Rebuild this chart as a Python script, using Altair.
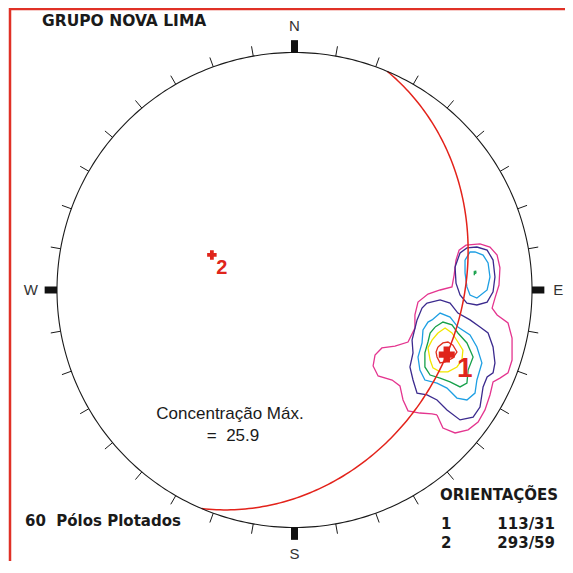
import math
import altair as alt
import pandas as pd

# ---------------- data ----------------
title_text = "GRUPO NOVA LIMA"
poles_text = "60 \u00a0Pólos Plotados"
max_label = "Concentração Máx."
max_value = "= \u00a025.9"
orient_title = "ORIENTAÇÕES"
orient_ids = ["1", "2"]
orient_trend = [113, 293]
orient_plunge = [31, 59]
orient_text = ["113/31", "293/59"]
plane_dipdir = 113
plane_dip = 31
cardinal_names = ["N", "E", "S", "W"]
cardinal_az = [0, 90, 180, 270]
tick_az = [a for a in range(0, 360, 10) if a % 90 != 0]

# contour loops (x east, y north, in units of net radius)
mag_x = [0.600, 0.625, 0.676, 0.731, 0.773, 0.802, 0.823, 0.836, 0.865, 0.899, 0.916, 0.916, 0.899, 0.853,
         0.832, 0.844, 0.861, 0.865, 0.853, 0.823, 0.781, 0.722, 0.693, 0.680, 0.672, 0.663, 0.613, 0.562,
         0.520, 0.507, 0.507, 0.478, 0.423, 0.368, 0.339, 0.331, 0.352, 0.411, 0.444, 0.457, 0.478, 0.528, 0.579]
mag_y = [-0.526, -0.581, -0.602, -0.589, -0.556, -0.505, -0.442, -0.387, -0.371, -0.349, -0.295, -0.202, -0.139, -0.105,
         -0.076, -0.034, 0.021, 0.093, 0.147, 0.181, 0.194, 0.189, 0.168, 0.126, 0.063, 0.013, 0.000, -0.017,
         -0.051, -0.105, -0.160, -0.219, -0.236, -0.244, -0.274, -0.320, -0.362, -0.379, -0.404, -0.463, -0.509, -0.518, -0.522]

pur_up_x = [0.676, 0.697, 0.726, 0.768, 0.811, 0.836, 0.844, 0.836, 0.811, 0.768, 0.726, 0.697, 0.680]
pur_up_y = [0.097, 0.156, 0.177, 0.181, 0.168, 0.126, 0.055, -0.008, -0.051, -0.063, -0.055, -0.021, 0.029]

blu_up_x = [0.718, 0.739, 0.760, 0.794, 0.815, 0.823, 0.811, 0.768, 0.739, 0.726, 0.718]
blu_up_y = [0.126, 0.160, 0.160, 0.147, 0.114, 0.055, 0.000, -0.034, -0.021, 0.013, 0.072]

grn_up_x = [0.757, 0.763, 0.764, 0.759, 0.757, 0.757]
grn_up_y = [0.078, 0.079, 0.072, 0.069, 0.072, 0.062]

pur_x = [0.558, 0.613, 0.655, 0.688, 0.739, 0.781, 0.815, 0.836, 0.844, 0.836, 0.811, 0.794, 0.781, 0.752,
         0.697, 0.642, 0.600, 0.558, 0.516, 0.499, 0.486, 0.499, 0.495, 0.516, 0.537]
pur_y = [-0.055, -0.042, -0.055, -0.097, -0.126, -0.156, -0.181, -0.240, -0.307, -0.349, -0.366, -0.408, -0.493, -0.535,
         -0.547, -0.505, -0.463, -0.442, -0.434, -0.379, -0.324, -0.265, -0.211, -0.126, -0.076]

blu_x = [0.579, 0.613, 0.655, 0.688, 0.739, 0.768, 0.789, 0.768, 0.760, 0.726, 0.684, 0.642, 0.600, 0.549,
         0.528, 0.520, 0.537, 0.541, 0.562]
blu_y = [-0.126, -0.097, -0.114, -0.156, -0.189, -0.240, -0.307, -0.379, -0.434, -0.463, -0.455, -0.413, -0.392, -0.379,
         -0.337, -0.282, -0.223, -0.168, -0.135]

grn_x = [0.592, 0.625, 0.663, 0.688, 0.726, 0.752, 0.731, 0.726, 0.697, 0.655, 0.613, 0.571, 0.549, 0.549, 0.562, 0.571]
grn_y = [-0.156, -0.135, -0.147, -0.181, -0.223, -0.282, -0.337, -0.392, -0.408, -0.387, -0.371, -0.358, -0.324, -0.265, -0.219, -0.181]

yel_x = [0.604, 0.634, 0.663, 0.688, 0.709, 0.705, 0.684, 0.646, 0.613, 0.583, 0.571, 0.562, 0.579]
yel_y = [-0.181, -0.160, -0.181, -0.219, -0.253, -0.295, -0.324, -0.345, -0.345, -0.328, -0.295, -0.244, -0.211]

red_x = [0.604, 0.625, 0.646, 0.667, 0.684, 0.667, 0.634, 0.613, 0.600, 0.596]
red_y = [-0.240, -0.223, -0.219, -0.232, -0.261, -0.286, -0.303, -0.307, -0.282, -0.261]

loops = [
    ("m", "c1", mag_x, mag_y),
    ("pu", "c2", pur_up_x, pur_up_y),
    ("bu", "c3", blu_up_x, blu_up_y),
    ("gu", "c4", grn_up_x, grn_up_y),
    ("p", "c2", pur_x, pur_y),
    ("b", "c3", blu_x, blu_y),
    ("g", "c4", grn_x, grn_y),
    ("y", "c5", yel_x, yel_y),
    ("r", "c6", red_x, red_y),
]
level_names = ["c1", "c2", "c3", "c4", "c5", "c6"]
level_colors = ["#E4358F", "#3B2A8E", "#1E9FE3", "#16A04A", "#F2E600", "#E0301E"]

# ---------------- geometry helpers ----------------
def schmidt(trend, plunge):
    r = math.sqrt(2) * math.sin(math.radians(90 - plunge) / 2)
    t = math.radians(trend)
    return r * math.sin(t), r * math.cos(t)

XD = [-1.2063, 1.1389]
YD = [-1.1411, 1.1874]
W, H = 557, 553
xs = alt.Scale(domain=XD, nice=False, zero=False)
ys = alt.Scale(domain=YD, nice=False, zero=False)

def X(f="x"):
    return alt.X(f"{f}:Q", scale=xs, axis=None)

def Y(f="y"):
    return alt.Y(f"{f}:Q", scale=ys, axis=None)

# primitive circle
circ = pd.DataFrame([{"o": i, "x": math.sin(math.radians(i)), "y": math.cos(math.radians(i))} for i in range(0, 361)])
prim = alt.Chart(circ).mark_line(color="#1a1a1a", strokeWidth=1.1).encode(x=X(), y=Y(), order="o:Q")

# ticks
tk = pd.DataFrame([{"x": math.sin(math.radians(a)), "y": math.cos(math.radians(a)),
                    "x2": 1.042 * math.sin(math.radians(a)), "y2": 1.042 * math.cos(math.radians(a))} for a in tick_az])
ticks = alt.Chart(tk).mark_rule(color="#1a1a1a", strokeWidth=1).encode(x=X(), y=Y(), x2="x2:Q", y2="y2:Q")

ck = pd.DataFrame([{"x": math.sin(math.radians(a)), "y": math.cos(math.radians(a)),
                    "x2": 1.052 * math.sin(math.radians(a)), "y2": 1.052 * math.cos(math.radians(a))} for a in cardinal_az])
cticks = alt.Chart(ck).mark_rule(color="#111111", strokeWidth=7, strokeCap="butt").encode(x=X(), y=Y(), x2="x2:Q", y2="y2:Q")

cl = pd.DataFrame([{"t": n, "x": 1.11 * math.sin(math.radians(a)), "y": 1.11 * math.cos(math.radians(a))}
                   for n, a in zip(cardinal_names, cardinal_az)])
clabels = alt.Chart(cl).mark_text(font="Liberation Sans", fontSize=15, color="#333333",
                                  align="center", baseline="middle").encode(x=X(), y=Y(), text="t:N")

# contours
rows = []
for lid, lev, lx, ly in loops:
    pts = list(zip(lx, ly)) + [(lx[0], ly[0])]
    for i, (a, b) in enumerate(pts):
        rows.append({"loop": lid, "level": lev, "o": i, "x": a, "y": b})
cdf = pd.DataFrame(rows)
contours = alt.Chart(cdf).mark_line(strokeWidth=1.3, interpolate="linear").encode(
    x=X(), y=Y(), detail="loop:N", order="o:Q",
    color=alt.Color("level:N", scale=alt.Scale(domain=level_names, range=level_colors), legend=None))

# great circle of plane 113/31
dd, dp = math.radians(plane_dipdir), math.radians(plane_dip)
s = math.radians(plane_dipdir - 90)
gc_rows = []
for i in range(0, 181):
    a = math.radians(i)
    e = math.cos(a) * math.sin(s) + math.sin(a) * math.sin(dd) * math.cos(dp)
    n = math.cos(a) * math.cos(s) + math.sin(a) * math.cos(dd) * math.cos(dp)
    d = math.sin(a) * math.sin(dp)
    pl = math.degrees(math.asin(max(-1, min(1, d))))
    tr = math.degrees(math.atan2(e, n))
    x, y = schmidt(tr, pl)
    gc_rows.append({"o": i, "x": x, "y": y})
gc = alt.Chart(pd.DataFrame(gc_rows)).mark_line(color="#E3231B", strokeWidth=1.5).encode(x=X(), y=Y(), order="o:Q")

# poles
p1 = schmidt(orient_trend[0], orient_plunge[0])
p2 = schmidt(orient_trend[1], orient_plunge[1])
pole1 = alt.Chart(pd.DataFrame([{"x": p1[0], "y": p1[1], "t": orient_ids[0]}]))
pole2 = alt.Chart(pd.DataFrame([{"x": p2[0], "y": p2[1], "t": orient_ids[1]}]))
cross1 = pole1.mark_point(shape="cross", filled=True, size=256, color="#E0251B", opacity=1).encode(x=X(), y=Y())
cross2 = pole2.mark_point(shape="cross", filled=True, size=90, color="#E0251B", opacity=1).encode(x=X(), y=Y())
lab1 = pole1.mark_text(font="Liberation Sans", fontWeight="bold", fontSize=28, color="#E0251B",
                       dx=18, dy=14, align="center", baseline="middle").encode(x=X(), y=Y(), text="t:N")
lab2 = pole2.mark_text(font="Liberation Sans", fontWeight="bold", fontSize=20, color="#E0251B",
                       dx=10, dy=13, align="center", baseline="middle").encode(x=X(), y=Y(), text="t:N")

# frame
one = pd.DataFrame([{"k": 0}])
frame_left = alt.Chart(one).mark_rule(color="#E03126", strokeWidth=2.5).encode(
    x=alt.value(2), y=alt.value(0), y2=alt.value(H))
frame_top = alt.Chart(one).mark_rule(color="#E03126", strokeWidth=2.5).encode(
    y=alt.value(1), x=alt.value(2), x2=alt.value(W))

def txt(t, x, y, size, weight="normal", align="left", font="DejaVu Sans", color="#1a1a1a"):
    return alt.Chart(pd.DataFrame([{"t": t}])).mark_text(
        font=font, fontSize=size, fontWeight=weight, align=align, baseline="middle", color=color
    ).encode(x=alt.value(x), y=alt.value(y), text="t:N")

texts = [
    txt(title_text, 34, 12.5, 15.5, "bold"),
    txt(poles_text, 17, 513, 15, "bold"),
    txt(max_label, 222, 406, 17, "normal", "center", "Liberation Sans"),
    txt(max_value, 225, 428, 17, "normal", "center", "Liberation Sans"),
    txt(orient_title, 432, 487, 15, "bold"),
    txt(orient_ids[0], 433, 516, 15, "bold"),
    txt(orient_text[0], 547, 516, 15, "bold", "right"),
    txt(orient_ids[1], 433, 535, 15, "bold"),
    txt(orient_text[1], 547, 535, 15, "bold", "right"),
]

chart = alt.layer(
    frame_left, frame_top, contours, gc, prim, ticks, cticks, clabels,
    cross1, cross2, lab1, lab2, *texts
).properties(
    width=W, height=H, autosize=alt.AutoSizeParams(type="none"), padding=0, background="white"
).configure_view(stroke=None)

chart.save("out.html", embed_options={"renderer": "svg", "actions": False})
